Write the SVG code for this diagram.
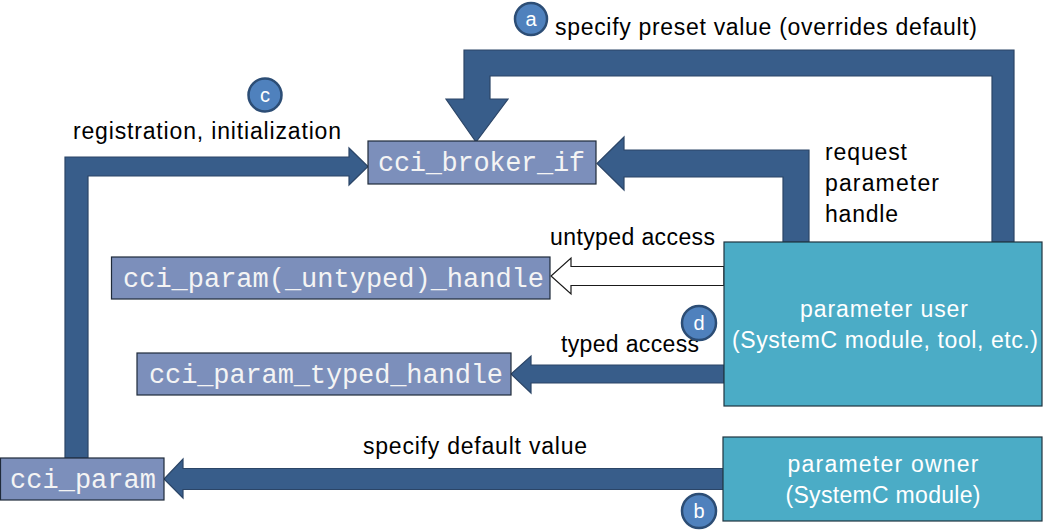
<svg xmlns="http://www.w3.org/2000/svg" width="1043" height="530" viewBox="0 0 1043 530">
<style>
.arr{fill:#385D8A;stroke:#2B4567;stroke-width:1.2}
.warr{fill:#FFFFFF;stroke:#1A1A1A;stroke-width:1.2}
.cci{fill:#7C8FBB;stroke:#1F2A3A;stroke-width:1.2}
.cci-t{font-family:"Liberation Mono","Courier New",monospace;font-size:27px;fill:#F4F4F4}
.mod{fill:#4BACC6;stroke:#1F3440;stroke-width:1.2}
.mod-t{font-family:"Liberation Sans",Arial,sans-serif;font-size:23px;fill:#FFFFFF;text-anchor:middle}
.lbl{font-family:"Liberation Sans",Arial,sans-serif;font-size:23px;fill:#000000}
.badge{fill:#4F81BD;stroke:#2C4D75;stroke-width:2.5}
.badge-t{font-family:"Liberation Sans",Arial,sans-serif;font-size:20px;fill:#FFFFFF;text-anchor:middle}
</style>
<rect width="1043" height="530" fill="#FFFFFF"/>
<g id="connectors">
  <path id="preset" class="arr" d="M1014,50 L464,50 L464,99 L446,99 L476,142 L508,99 L490,99 L490,76 L992,76 L992,242 L1014,242 Z"/>
  <path id="request" class="arr" d="M809,150 L624,150 L624,137 L597,163.5 L624,190 L624,177 L783,177 L783,242 L809,242 Z"/>
  <path id="registration" class="arr" d="M65,458 L65,157 L349,157 L349,148 L368,166.5 L349,185 L349,176 L88,176 L88,458 Z"/>
  <path id="untyped" class="warr" d="M724,266.5 L571,266.5 L571,258 L551,276 L571,294 L571,285.5 L724,285.5 Z"/>
  <path id="typed" class="arr" d="M724,365 L531,365 L531,356 L511,374 L531,393 L531,383 L724,383 Z"/>
  <path id="default" class="arr" d="M724,468.5 L183,468.5 L183,459 L164,479 L183,498 L183,489.5 L724,489.5 Z"/>
</g>
<g id="labels">
  <text class="lbl" x="555" y="35" textLength="422" lengthAdjust="spacing">specify preset value (overrides default)</text>
  <text class="lbl" x="73" y="139" textLength="268" lengthAdjust="spacing">registration, initialization</text>
  <text class="lbl" x="825" y="160" textLength="82" lengthAdjust="spacing">request</text>
  <text class="lbl" x="825" y="191" textLength="114" lengthAdjust="spacing">parameter</text>
  <text class="lbl" x="825" y="222" textLength="73" lengthAdjust="spacing">handle</text>
  <text class="lbl" x="550" y="245" textLength="165" lengthAdjust="spacing">untyped access</text>
  <text class="lbl" x="561" y="352" textLength="138" lengthAdjust="spacing">typed access</text>
  <text class="lbl" x="363" y="454" textLength="224" lengthAdjust="spacing">specify default value</text>
</g>
<g id="cci_broker_if">
  <rect class="cci" x="368" y="141" width="228" height="43"/>
  <text class="cci-t" x="378" y="171" textLength="207" lengthAdjust="spacing">cci_broker_if</text>
</g>
<g id="cci_param_untyped_handle">
  <rect class="cci" x="111.5" y="257" width="438.5" height="42"/>
  <text class="cci-t" x="123" y="287" textLength="421" lengthAdjust="spacing">cci_param(_untyped)_handle</text>
</g>
<g id="cci_param_typed_handle">
  <rect class="cci" x="137" y="353" width="374" height="42"/>
  <text class="cci-t" x="149" y="383" textLength="354" lengthAdjust="spacing">cci_param_typed_handle</text>
</g>
<g id="cci_param">
  <rect class="cci" x="0.5" y="458" width="163.5" height="42"/>
  <text class="cci-t" x="10" y="488" textLength="146" lengthAdjust="spacing">cci_param</text>
</g>
<g id="parameter_user">
  <rect class="mod" x="724" y="242" width="318" height="164"/>
  <text class="mod-t" x="884" y="317" textLength="168" lengthAdjust="spacing">parameter user</text>
  <text class="mod-t" x="885" y="348" textLength="306" lengthAdjust="spacing">(SystemC module, tool, etc.)</text>
</g>
<g id="parameter_owner">
  <rect class="mod" x="723" y="437" width="319" height="84"/>
  <text class="mod-t" x="883" y="472" textLength="191" lengthAdjust="spacing">parameter owner</text>
  <text class="mod-t" x="883" y="503" textLength="195" lengthAdjust="spacing">(SystemC module)</text>
</g>
<g id="badge_a">
  <circle class="badge" cx="531" cy="19" r="16"/>
  <text class="badge-t" x="531" y="26">a</text>
</g>
<g id="badge_c">
  <circle class="badge" cx="265" cy="95" r="16.5"/>
  <text class="badge-t" x="265" y="102">c</text>
</g>
<g id="badge_d">
  <circle class="badge" cx="699" cy="323" r="17"/>
  <text class="badge-t" x="699" y="330">d</text>
</g>
<g id="badge_b">
  <circle class="badge" cx="699" cy="511" r="17"/>
  <text class="badge-t" x="699" y="518">b</text>
</g>
</svg>
